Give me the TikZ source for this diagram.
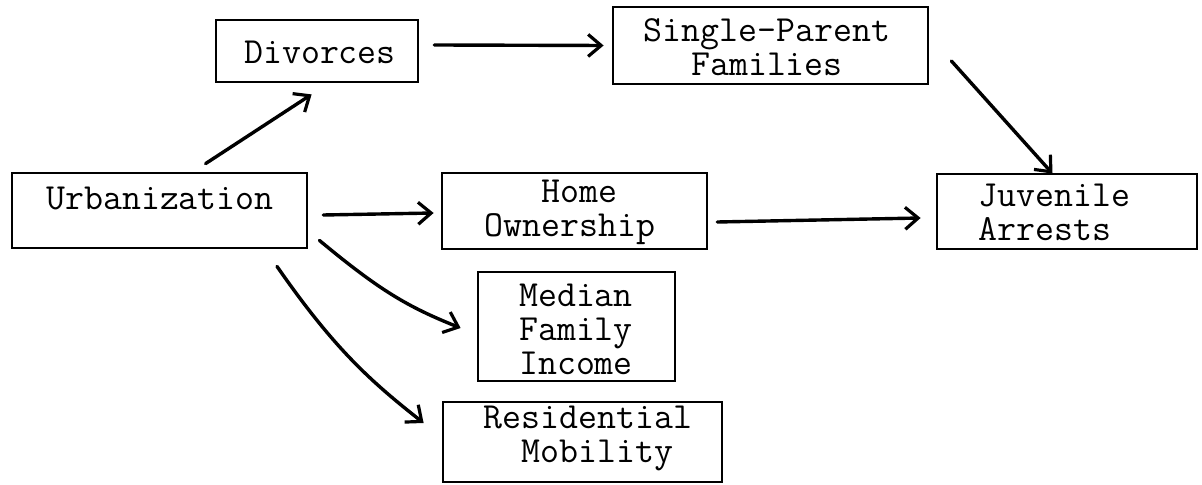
\documentclass[tikz,border=0pt]{standalone}
\usepackage{fontspec}
\usetikzlibrary{arrows.meta,fit,calc}
\tikzset{
  box/.style={draw, line width=1.4pt, inner sep=0pt, rectangle},
  lbl/.style={font=\ttfamily\fontsize{18.4}{17}\selectfont, inner sep=0pt, align=center},
  arr/.style={line width=1.7pt, line cap=round, -{Straight Barb[length=6.5pt,width=11pt,line width=1.6pt]}}
}
\begin{document}
\begin{tikzpicture}[x=0.5pt,y=-0.5pt]
\useasboundingbox (0,0) rectangle (1202,485);
% boxes
\node[box, fit={(216,20) (418,82)}] (div) {};
\node[box, fit={(613,7) (928,84)}] (sp) {};
\node[box, fit={(12,173) (307,248)}] (urb) {};
\node[box, fit={(442,173) (707,249)}] (home) {};
\node[box, fit={(937,174) (1197,249)}] (ja) {};
\node[box, fit={(478,272) (675,381)}] (med) {};
\node[box, fit={(443,402) (722,482)}] (res) {};
% texts
\node[lbl] (tdiv) at (320,52) {Divorces};
\node[lbl] (tsp) at (767,47) {Single-Parent\\Families};
\node[lbl] (turb) at (160,198) {Urbanization};
\node[lbl] (thome) at (570,212) {\phantom{x}Home\\Ownership};
\node[lbl, anchor=west, align=left] (tja) at (978,212) {Juvenile\\Arrests};
\node[lbl, align=center] (tmed) at (576,329) {Median\\Family\\Income};
\node[lbl] (tres) at (588,438) {Residential\\\phantom{x}Mobility};
% arrows
\draw[arr] ($(urb.north west)+(195,-8)$) -- ($(div.south west)+(97,11)$);
\draw[arr] ($(div.east)+(15,-6)$) -- ($(sp.west)+(-8,0)$);
\draw[arr] ($(sp.east)+(22,15.5)$) -- ($(ja.north)+(-14.5,1)$);
\draw[arr] ($(urb.east)+(15,4.5)$) -- ($(home.west)+(-7,2)$);
\draw[arr] ($(home.east)+(9,11)$) -- ($(ja.west)+(-15,6.5)$);
\draw[arr] ($(urb.south east)+(11,-9)$) .. controls ($(urb.south east)+(70,40)$) and ($(med.west)+(-70,-20)$) .. ($(med.west)+(-16,1.5)$);
\draw[arr] ($(urb.south)+(117.5,17)$) .. controls ($(urb.south)+(175,100)$) and ($(res.west)+(-70,-60)$) .. ($(res.west)+(-18,-19)$);
\end{tikzpicture}
\end{document}
